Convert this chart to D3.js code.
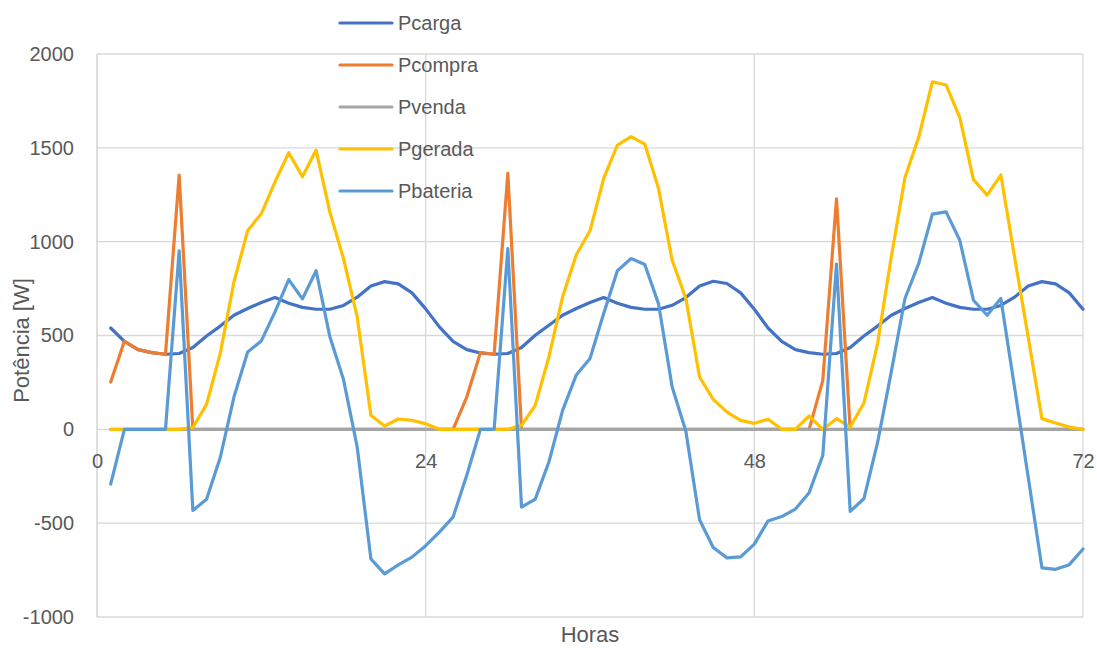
<!DOCTYPE html>
<html>
<head>
<meta charset="utf-8">
<script src="https://cdn.jsdelivr.net/npm/d3@7"></script>
<style>
  html, body { margin: 0; padding: 0; background: #ffffff; }
  svg { display: block; }
  text { font-family: "Liberation Sans", Arial, sans-serif; fill: #595959; }
</style>
</head>
<body>
<svg id="chart" width="1097" height="648"></svg>
<script>
// Hourly power balance over three days (W)
const hours = d3.range(1, 73);

const pcarga = [
  540, 469, 425, 409, 400, 404, 436, 497, 550, 608, 644, 676,
  702, 672, 650, 640, 640, 660, 704, 764, 787, 775, 727, 642,
  546, 469, 425, 407, 400, 404, 436, 501, 555, 608, 644, 676,
  702, 672, 650, 640, 640, 661, 702, 764, 789, 777, 727, 640,
  540, 469, 425, 409, 400, 404, 436, 497, 550, 608, 644, 676,
  702, 672, 650, 640, 640, 660, 704, 764, 787, 775, 727, 640
];

const pcompra = [
  252, 469, 425, 409, 400, 1355, 0, 0, 0, 0, 0, 0,
  0, 0, 0, 0, 0, 0, 0, 0, 0, 0, 0, 0,
  0, 0, 172, 409, 400, 1364, 0, 0, 0, 0, 0, 0,
  0, 0, 0, 0, 0, 0, 0, 0, 0, 0, 0, 0,
  0, 0, 0, 0, 261, 1228, 0, 0, 0, 0, 0, 0,
  0, 0, 0, 0, 0, 0, 0, 0, 0, 0, 0, 0
];

const pvenda = [
  0, 0, 0, 0, 0, 0, 0, 0, 0, 0, 0, 0,
  0, 0, 0, 0, 0, 0, 0, 0, 0, 0, 0, 0,
  0, 0, 0, 0, 0, 0, 0, 0, 0, 0, 0, 0,
  0, 0, 0, 0, 0, 0, 0, 0, 0, 0, 0, 0,
  0, 0, 0, 0, 0, 0, 0, 0, 0, 0, 0, 0,
  0, 0, 0, 0, 0, 0, 0, 0, 0, 0, 0, 0
];

const pgerada = [
  0, 0, 0, 0, 0, 0, 10, 133, 405, 786, 1058, 1150,
  1319, 1474, 1346, 1488, 1159, 910, 599, 75, 18, 55, 48, 30,
  0, 0, 0, 0, 0, 0, 21, 128, 386, 706, 930, 1058,
  1337, 1515, 1560, 1520, 1284, 901, 697, 279, 160, 92, 48, 32,
  54, 0, 0, 72, 0, 57, 12, 140, 457, 919, 1342, 1556,
  1852, 1835, 1662, 1331, 1248, 1355, 919, 490, 57, 34, 12, 0
];

const pbateria = [
  -292, 0, 0, 0, 0, 951, -432, -372, -150, 172, 412, 471,
  626, 798, 695, 845, 495, 265, -94, -690, -770, -722, -681, -620,
  -548, -468, -245, 0, 0, 963, -414, -372, -174, 101, 290, 377,
  617, 845, 910, 878, 670, 226, -10, -482, -630, -685, -680, -612,
  -488, -465, -425, -338, -139, 880, -437, -370, -70, 306, 697, 883,
  1147, 1159, 1008, 688, 608, 697, 224, -255, -738, -746, -721, -638
];

const yTicks = [-1000, -500, 0, 500, 1000, 1500, 2000];
const xTicks = [0, 24, 48, 72];

const series = [
  { name: "Pcarga",   values: pcarga,   color: "#4472C4" },
  { name: "Pcompra",  values: pcompra,  color: "#ED7D31" },
  { name: "Pvenda",   values: pvenda,   color: "#A5A5A5" },
  { name: "Pgerada",  values: pgerada,  color: "#FFC000" },
  { name: "Pbateria", values: pbateria, color: "#5B9BD5" }
];

const plot = { left: 97, right: 1083, top: 54, bottom: 617 };
const svg = d3.select("#chart");

const x = d3.scaleLinear().domain([0, 72]).range([plot.left, plot.right]);
const y = d3.scaleLinear().domain([-1000, 2000]).range([plot.bottom, plot.top]);

// Plain hyphen-minus for negative labels
const fmt = d => String(d);

// Gridlines
const grid = svg.append("g");
grid.selectAll("line.h").data(yTicks).join("line")
  .attr("x1", plot.left).attr("x2", plot.right)
  .attr("y1", d => y(d)).attr("y2", d => y(d))
  .attr("stroke", "#D9D9D9").attr("stroke-width", 1.3);
grid.selectAll("line.v").data(xTicks.slice(1)).join("line")
  .attr("y1", plot.top).attr("y2", plot.bottom)
  .attr("x1", d => x(d)).attr("x2", d => x(d))
  .attr("stroke", "#D9D9D9").attr("stroke-width", 1.3);
grid.append("line")
  .attr("x1", plot.left).attr("x2", plot.left)
  .attr("y1", plot.top).attr("y2", plot.bottom)
  .attr("stroke", "#CCCCCC").attr("stroke-width", 1.3);

// Y axis labels
const yAxis = svg.append("g")
  .attr("transform", `translate(${plot.left},0)`)
  .call(d3.axisLeft(y).tickValues(yTicks).tickSize(0).tickPadding(23).tickFormat(fmt));
yAxis.select(".domain").remove();
yAxis.selectAll("text").attr("font-size", 20).attr("fill", "#595959")
  .style("font-family", "'Liberation Sans', Arial, sans-serif");

// X axis labels sit just under the zero line
const xAxis = svg.append("g")
  .attr("transform", `translate(0,${y(0)})`)
  .call(d3.axisBottom(x).tickValues(xTicks).tickSize(0).tickPadding(24).tickFormat(fmt));
xAxis.select(".domain").remove();
xAxis.selectAll("text").attr("font-size", 20).attr("fill", "#595959")
  .style("font-family", "'Liberation Sans', Arial, sans-serif");

// Series lines
const line = d3.line()
  .x((d, i) => x(hours[i]))
  .y(d => y(d));

svg.append("g").selectAll("path").data(series).join("path")
  .attr("d", s => line(s.values))
  .attr("fill", "none")
  .attr("stroke", s => s.color)
  .attr("stroke-width", 3.2)
  .attr("stroke-linejoin", "round")
  .attr("stroke-linecap", "round");

// Axis titles
svg.append("text")
  .attr("x", (plot.left + plot.right) / 2).attr("y", 642)
  .attr("text-anchor", "middle").attr("font-size", 22)
  .text("Horas");
svg.append("text")
  .attr("transform", `translate(29,${(plot.top + plot.bottom) / 2 + 5}) rotate(-90)`)
  .attr("text-anchor", "middle").attr("font-size", 22)
  .text("Potência [W]");

// Legend
const legend = svg.append("g").selectAll("g").data(series).join("g")
  .attr("transform", (d, i) => `translate(340,${23 + i * 42})`);
legend.append("line")
  .attr("x1", 0).attr("x2", 52).attr("y1", 0).attr("y2", 0)
  .attr("stroke", d => d.color).attr("stroke-width", 3.2)
  .attr("stroke-linecap", "round");
legend.append("text")
  .attr("x", 58).attr("y", 7).attr("font-size", 20)
  .text(d => d.name);
</script>
</body>
</html>
